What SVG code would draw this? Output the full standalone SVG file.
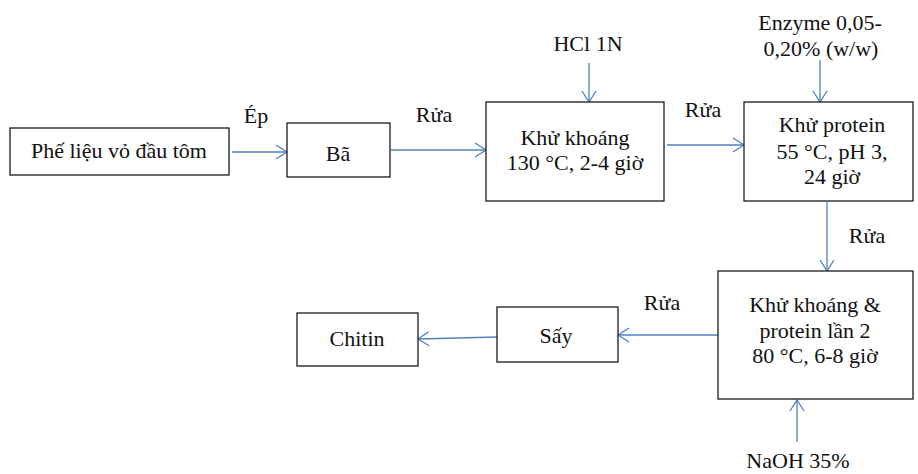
<svg xmlns="http://www.w3.org/2000/svg" width="918" height="474" viewBox="0 0 918 474">
<style>
.box{fill:#fff;stroke:#1a1a1a;stroke-width:1.3}
.t{font-family:"Liberation Serif","Times New Roman","DejaVu Serif",serif;font-size:22px;fill:#111;text-anchor:middle}
.c{stroke:#4F81BD;stroke-width:1.3;fill:none}
</style>
<defs>
<marker id="ah" markerUnits="userSpaceOnUse" markerWidth="14" markerHeight="18" refX="12" refY="8" orient="auto">
<path d="M1,1 L12,8 L1,15" fill="none" stroke="#4F81BD" stroke-width="1.3"/>
</marker>
</defs>
<rect width="918" height="474" fill="#fff"/>
<g id="connectors">
<line class="c" x1="232" y1="152" x2="287" y2="152" marker-end="url(#ah)"/>
<line class="c" x1="391" y1="150" x2="486" y2="150" marker-end="url(#ah)"/>
<line class="c" x1="667" y1="145" x2="744" y2="145" marker-end="url(#ah)"/>
<line class="c" x1="589" y1="63" x2="589" y2="102" marker-end="url(#ah)"/>
<line class="c" x1="820" y1="60" x2="820" y2="102" marker-end="url(#ah)"/>
<line class="c" x1="827" y1="202" x2="827" y2="271" marker-end="url(#ah)"/>
<line class="c" x1="718" y1="335" x2="618" y2="335" marker-end="url(#ah)"/>
<line class="c" x1="497" y1="337" x2="418" y2="339" marker-end="url(#ah)"/>
<line class="c" x1="797" y1="442" x2="797" y2="400" marker-end="url(#ah)"/>
<text class="t" x="256" y="123">Ép</text>
<text class="t" x="434" y="122">Rửa</text>
<text class="t" x="703" y="117">Rửa</text>
<text class="t" x="867" y="243">Rửa</text>
<text class="t" x="662" y="310">Rửa</text>
</g>
<g id="n1">
<rect class="box" x="10" y="128" width="219" height="47"/>
<text class="t" x="119" y="158">Phế liệu vỏ đầu tôm</text>
</g>
<g id="n2">
<rect class="box" x="287" y="123" width="103" height="54"/>
<text class="t" x="338" y="161">Bã</text>
</g>
<g id="n3">
<rect class="box" x="486" y="102" width="178" height="99"/>
<text class="t" x="575" y="145">Khử khoáng</text>
<text class="t" x="575" y="170">130 °C, 2-4 giờ</text>
</g>
<g id="hcl">
<text class="t" x="588" y="51">HCl 1N</text>
</g>
<g id="n4">
<rect class="box" x="744" y="102" width="169" height="99"/>
<text class="t" x="832" y="132">Khử protein</text>
<text class="t" x="832" y="159">55 °C, pH 3,</text>
<text class="t" x="832" y="184">24 giờ</text>
</g>
<g id="enzyme">
<text class="t" x="820" y="30">Enzyme 0,05-</text>
<text class="t" x="821" y="56">0,20% (w/w)</text>
</g>
<g id="n5">
<rect class="box" x="718" y="271" width="195" height="128"/>
<text class="t" x="815" y="312">Khử khoáng &amp;</text>
<text class="t" x="815" y="338">protein lần 2</text>
<text class="t" x="815" y="363">80 °C, 6-8 giờ</text>
</g>
<g id="naoh">
<text class="t" x="798" y="468">NaOH 35%</text>
</g>
<g id="n6">
<rect class="box" x="497" y="307" width="121" height="55"/>
<text class="t" x="556" y="343">Sấy</text>
</g>
<g id="n7">
<rect class="box" x="297" y="313" width="121" height="53"/>
<text class="t" x="357" y="346">Chitin</text>
</g>
</svg>
